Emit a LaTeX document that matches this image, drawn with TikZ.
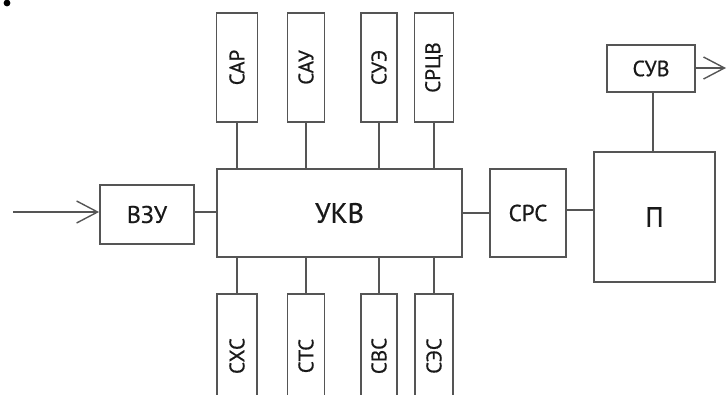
\documentclass[tikz,border=0pt]{standalone}
\usepackage{fontspec}
\setmainfont{PT Sans}[FakeBold=0.6]
\usetikzlibrary{arrows.meta}
\definecolor{ln}{HTML}{555555}
\begin{document}
\begin{tikzpicture}[x=1pt,y=-1pt,
  blk/.style={draw=ln,line width=1.8pt,rectangle,inner sep=0pt,text=black!90},
  vbox/.style={blk,minimum width=40pt,minimum height=109pt},
  vtext/.style={rotate=90,inner sep=0pt,text=black!90,font=\fontsize{21}{21}\selectfont},
  wire/.style={draw=ln,line width=2pt},
  arr/.style={wire,-{Straight Barb[length=21pt,width=22pt,line width=1.4pt]}}]
\useasboundingbox (0,0) rectangle (727,394);
\clip (0,0) rectangle (727,394);
\fill[white] (0,0) rectangle (727,394);
% fragment at top-left
\fill[black] (7,3) circle (3.4);
% main blocks
\node[blk,minimum width=245pt,minimum height=88pt,font=\fontsize{28}{28}\selectfont] (ukv) at (339.5,213) {УКВ};
\node[blk,minimum width=94pt,minimum height=59pt,font=\fontsize{24}{24}\selectfont] (vzu) at (147,214.5) {ВЗУ};
\node[blk,minimum width=76pt,minimum height=88pt,font=\fontsize{23}{23}\selectfont] (cpc) at (528,213) {СРС};
\node[blk,minimum width=121pt,minimum height=130pt,font=\fontsize{28}{28}\selectfont] (p) at (654.5,217) {П};
\node[blk,minimum width=88pt,minimum height=47pt,font=\fontsize{22}{22}\selectfont] (suv) at (651,68.5) {СУВ};
% top boxes
\node[vbox,minimum width=41pt] (sar) at (237,67.5) {};
\node[vtext] at (sar.center) {САР};
\node[vbox,minimum width=37pt] (sau) at (306,67.5) {};
\node[vtext] at (sau.center) {САУ};
\node[vbox,minimum width=36pt] (sue) at (379,67.5) {};
\node[vtext] at (sue.center) {СУЭ};
\node[vbox,minimum width=39pt] (srcv) at (434,67.5) {};
\node[vtext] at (srcv.center) {СРЦВ};
% bottom boxes (run past the lower edge)
\node[vbox,minimum width=40pt,minimum height=124pt] (sxs) at (237,356) {};
\node[vtext] at (sxs.center) {СХС};
\node[vbox,minimum width=37pt,minimum height=124pt] (sts) at (306,356) {};
\node[vtext] at (sts.center) {СТС};
\node[vbox,minimum width=36pt,minimum height=124pt] (svs) at (379,356) {};
\node[vtext] at (svs.center) {СВС};
\node[vbox,minimum width=38pt,minimum height=124pt] (ses) at (434,356) {};
\node[vtext] at (ses.center) {СЭС};
% connectors
\foreach \b in {sar,sau,sue,srcv}{\draw[wire] (\b.south) -- (\b.south |- ukv.north);}
\foreach \b in {sxs,sts,svs,ses}{\draw[wire] (\b.north) -- (\b.north |- ukv.south);}
\coordinate (in) at (13,212);
\coordinate (out) at (726,68);
\draw[arr] (in) -- (in -| vzu.west);
\draw[wire] (vzu.east |- in) -- (in -| ukv.west);
\draw[wire] (ukv.east) -- (cpc.west);
\draw[wire] ([yshift=3pt]cpc.east) -- ([yshift=3pt]cpc.east -| p.west);
\draw[wire] (suv.south -| 653,0) -- (653,0 |- p.north);
\draw[arr] (suv.east |- out) -- (out);
\end{tikzpicture}
\end{document}
